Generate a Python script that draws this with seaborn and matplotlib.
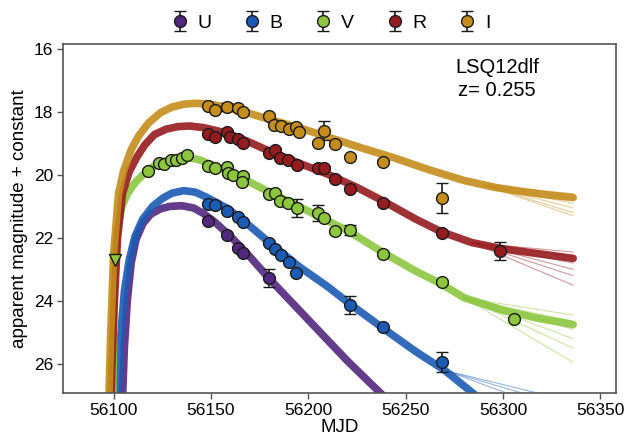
import numpy as np
import seaborn as sns
import matplotlib.pyplot as plt

# colours of the five bands
colors = {'U': '#52287f', 'B': '#1c5bb5', 'V': '#8cc63e', 'R': '#961b1f', 'I': '#c58d1c'}
bands = ['U', 'B', 'V', 'R', 'I']

# observed photometry (MJD, mag, error)
u_mjd = [56148.7, 56158.0, 56163.7, 56166.3, 56179.8]
u_mag = [21.46, 21.90, 22.32, 22.48, 23.27]
u_err = [0.05, 0.05, 0.05, 0.05, 0.29]

b_mjd = [56148.7, 56151.8, 56158.0, 56163.7, 56166.3, 56179.8, 56182.9, 56186.0,
         56190.2, 56193.8, 56221.2, 56238.3, 56268.4]
b_mag = [20.92, 20.95, 21.14, 21.33, 21.49, 22.16, 22.35, 22.54, 22.76, 23.11,
         24.13, 24.83, 25.94]
b_err = [0.05, 0.1, 0.05, 0.05, 0.05, 0.05, 0.05, 0.05, 0.05, 0.05, 0.29, 0.05, 0.32]

v_mjd = [56117.6, 56123.3, 56125.9, 56129.5, 56132.1, 56135.2, 56137.8, 56148.7,
         56151.8, 56158.0, 56158.5, 56161.1, 56166.3, 56165.8, 56179.8, 56182.9,
         56185.5, 56189.6, 56194.3, 56204.7, 56207.8, 56213.5, 56221.2, 56238.3,
         56268.4, 56305.7]
v_mag = [19.87, 19.62, 19.65, 19.52, 19.52, 19.46, 19.37, 19.71, 19.78, 19.75,
         19.94, 20.00, 20.03, 20.22, 20.60, 20.57, 20.83, 20.89, 21.05, 21.21,
         21.37, 21.78, 21.75, 22.51, 23.40, 24.57]
v_err = [0.05] * 18 + [0.29, 0.25, 0.05, 0.05, 0.15, 0.05, 0.05, 0.05]

r_mjd = [56148.7, 56151.8, 56158.0, 56159.6, 56163.7, 56166.3, 56179.8, 56182.9,
         56185.5, 56189.6, 56194.3, 56204.7, 56207.8, 56213.5, 56221.2, 56238.3,
         56268.4, 56298.4]
r_mag = [18.70, 18.79, 18.63, 18.79, 18.86, 18.98, 19.30, 19.21, 19.46, 19.52,
         19.68, 19.78, 19.78, 20.13, 20.44, 20.89, 21.84, 22.41]
r_err = [0.05] * 17 + [0.29]

i_mjd = [56148.7, 56151.8, 56158.0, 56163.7, 56166.3, 56179.8, 56182.4, 56186.0,
         56190.2, 56193.8, 56195.3, 56207.8, 56205.2, 56213.5, 56221.2, 56238.3,
         56268.4]
i_mag = [17.81, 17.94, 17.84, 17.87, 18.00, 18.13, 18.41, 18.44, 18.54, 18.48,
         18.63, 18.60, 18.98, 19.02, 19.43, 19.59, 20.73]
i_err = [0.05, 0.05, 0.12, 0.05, 0.05, 0.05, 0.05, 0.05, 0.05, 0.05, 0.05, 0.3,
         0.05, 0.05, 0.05, 0.05, 0.48]

# V-band upper limit
lim_mjd = [56100.5]
lim_mag = [22.70]

# model light curves
u_mod_mjd = [56104.5, 56105.5, 56107, 56109, 56111.5, 56115, 56119, 56124, 56129,
             56135, 56141, 56146, 56152, 56160, 56170, 56180, 56190, 56200, 56210,
             56220, 56230, 56240]
u_mod_mag = [27.2, 25.5, 24.0, 22.8, 22.05, 21.55, 21.25, 21.08, 21.0, 20.98,
             21.05, 21.22, 21.5, 21.95, 22.6, 23.3, 23.95, 24.6, 25.25, 25.9,
             26.5, 27.1]

b_mod_mjd = [56102, 56103.5, 56105.5, 56108, 56111, 56115, 56120, 56125, 56130,
             56136, 56142, 56148, 56158, 56166, 56180, 56195, 56210, 56221, 56238,
             56255, 56270, 56288]
b_mod_mag = [27.2, 25.2, 23.7, 22.7, 21.95, 21.4, 21.0, 20.75, 20.58, 20.5, 20.55,
             20.72, 21.05, 21.42, 22.15, 22.9, 23.55, 24.08, 24.85, 25.6, 26.2, 27.1]

v_mod_mjd = [56099.5, 56100.5, 56102, 56104, 56107, 56111, 56115, 56120, 56126,
             56132, 56138, 56144, 56150, 56162, 56180, 56195, 56208, 56221, 56238,
             56255, 56268, 56280, 56300, 56318, 56336]
v_mod_mag = [27.2, 22.7, 21.7, 21.05, 20.6, 20.25, 20.0, 19.75, 19.57, 19.47,
             19.45, 19.52, 19.68, 19.98, 20.55, 21.0, 21.4, 21.8, 22.45, 23.05,
             23.45, 23.9, 24.3, 24.55, 24.75]

r_mod_mjd = [56098.5, 56100, 56102, 56104.5, 56108, 56112, 56116, 56121, 56127,
             56133, 56139, 56146, 56153, 56160, 56170, 56180, 56196, 56210, 56225,
             56239, 56255, 56268, 56284, 56300, 56318, 56336]
r_mod_mag = [27.2, 24.5, 22.0, 20.6, 19.9, 19.43, 19.05, 18.72, 18.55, 18.47,
             18.45, 18.5, 18.6, 18.72, 18.97, 19.25, 19.65, 19.98, 20.4, 20.85,
             21.4, 21.8, 22.15, 22.35, 22.5, 22.65]

i_mod_mjd = [56097.5, 56098.5, 56100, 56102.5, 56105, 56109, 56113, 56118, 56124,
             56130, 56136, 56142, 56150, 56158, 56167, 56175, 56185, 56196, 56210,
             56227, 56244, 56262, 56280, 56296, 56310, 56322, 56336]
i_mod_mag = [27.2, 25.0, 22.5, 20.6, 19.9, 19.2, 18.75, 18.35, 18.03, 17.85, 17.76,
             17.73, 17.76, 17.86, 18.0, 18.15, 18.33, 18.52, 18.8, 19.14, 19.46,
             19.84, 20.18, 20.4, 20.53, 20.63, 20.72]

# late-time spread of the model ensemble: branch point and end magnitudes
tail_start = {'B': (56270, 26.2), 'V': (56280, 23.9), 'R': (56284, 22.15), 'I': (56290, 20.32)}
tail_end_mjd = 56336
tail_ends = {
    'B': [27.2, 27.4, 27.7],
    'V': [24.45, 24.65, 24.9, 25.2, 25.5, 25.95],
    'R': [22.45, 22.6, 22.8, 23.0, 23.2, 23.5],
    'I': [20.6, 20.75, 20.9, 21.05, 21.2, 21.3],
}

obs = {
    'U': (u_mjd, u_mag, u_err),
    'B': (b_mjd, b_mag, b_err),
    'V': (v_mjd, v_mag, v_err),
    'R': (r_mjd, r_mag, r_err),
    'I': (i_mjd, i_mag, i_err),
}
models = {
    'U': (u_mod_mjd, u_mod_mag),
    'B': (b_mod_mjd, b_mod_mag),
    'V': (v_mod_mjd, v_mod_mag),
    'R': (r_mod_mjd, r_mod_mag),
    'I': (i_mod_mjd, i_mod_mag),
}

sns.set_theme(style="ticks")
plt.rcParams['font.family'] = ['Liberation Sans', 'DejaVu Sans']
plt.rcParams['text.color'] = 'black'
plt.rcParams['axes.labelcolor'] = 'black'

fig = plt.figure(figsize=(6.27, 4.37), dpi=100)
ax = fig.add_axes([0.1005, 0.1007, 0.882, 0.7986])

# model curves first
for band in bands:
    mx, my = models[band]
    sns.lineplot(x=mx, y=my, ax=ax, color=colors[band], lw=5.5, alpha=0.9,
                 sort=False, estimator=None)
    if band in tail_start:
        x0, y0 = tail_start[band]
        for ye in tail_ends[band]:
            ax.plot([x0, tail_end_mjd], [y0, ye], color=colors[band], lw=0.8, alpha=0.45)

# observations
for band in bands:
    x, y, e = obs[band]
    ax.errorbar(x, y, yerr=e, fmt='o', ms=8.5, mfc=colors[band], mec='#1a1a1a',
                mew=1.0, ecolor='#1a1a1a', elinewidth=1.2, capsize=4, capthick=1.2,
                label=band, zorder=5)

ax.plot(lim_mjd, lim_mag, 'v', ms=9, mfc=colors['V'], mec='#1a1a1a', mew=1.0, zorder=6)

ax.set_xlim(56074, 56358)
ax.set_ylim(26.92, 15.85)
ax.set_xticks([56100, 56150, 56200, 56250, 56300, 56350])
ax.set_yticks([16, 18, 20, 22, 24, 26])
ax.tick_params(labelsize=12.5, length=4, width=1, color='#555555', labelcolor='black', pad=3)
for sp in ax.spines.values():
    sp.set_color('#555555')
    sp.set_linewidth(1.2)

ax.set_xlabel('MJD', fontsize=13.5, labelpad=1)
ax.set_ylabel('apparent magnitude + constant', fontsize=13.5, labelpad=4)

ax.text(0.785, 0.96, 'LSQ12dlf\nz= 0.255', transform=ax.transAxes, ha='center',
        va='top', fontsize=14.5, linespacing=1.3, color='black')

ax.legend(loc='lower center', bbox_to_anchor=(0.483, 0.985), ncol=5, frameon=False,
          fontsize=14, columnspacing=1.6, handletextpad=0.4, handlelength=1.0,
          labelcolor='black')

fig.savefig('out.png', dpi=100)
